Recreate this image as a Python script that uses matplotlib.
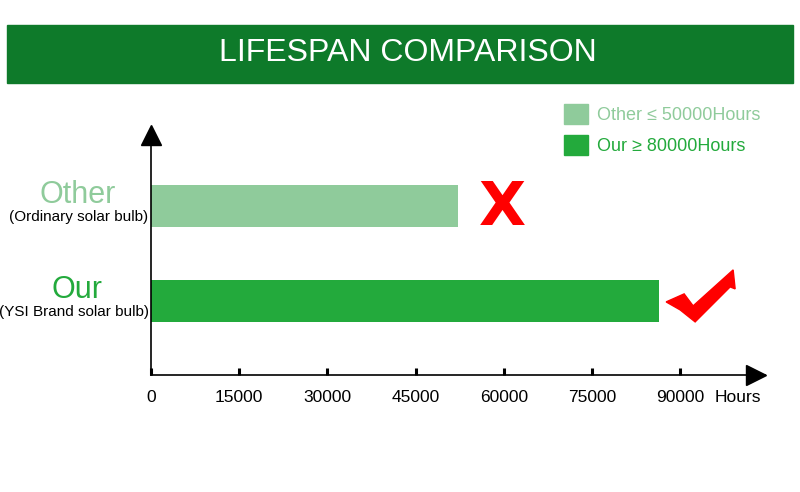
import matplotlib
matplotlib.use("Agg")
import matplotlib.pyplot as plt
from matplotlib.patches import Rectangle, Patch, Polygon
from matplotlib.transforms import Affine2D, ScaledTranslation

plt.rcParams['font.family'] = ['Liberation Sans', 'DejaVu Sans']

# data
categories = ["Our", "Other"]
subtitles = ["(YSI Brand solar bulb)", "(Ordinary solar bulb)"]
hours = [86400, 52200]
legend_labels = ["Other \u2264 50000Hours", "Our \u2265 80000Hours"]
tick_values = [0, 15000, 30000, 45000, 60000, 75000, 90000]

light_green = "#8fcb9b"
dark_green = "#23aa3c"
header_green = "#0e7a2a"
bar_colors = [dark_green, light_green]

fig = plt.figure(figsize=(8, 4.92), dpi=100)

# header band
fig.patches.append(Rectangle((7 / 800, 1 - 83 / 492), 786 / 800, 58 / 492,
                             transform=fig.transFigure, color=header_green, zorder=0))
fig.text(408 / 800, 1 - 53 / 492, "LIFESPAN COMPARISON", color="white",
         fontsize=23, ha="center", va="center")

ax = fig.add_axes([151 / 800, 117 / 492, 614 / 800, 247 / 492])
ypos = [0, 1]
ax.barh(ypos, hours, height=0.44, color=bar_colors, zorder=2)
ax.set_xlim(0, 104400)
ax.set_ylim(-0.78, 1.82)

for s in ["top", "right"]:
    ax.spines[s].set_visible(False)
ax.spines["left"].set_linewidth(1.2)
ax.spines["bottom"].set_linewidth(1.2)

# arrow heads
ax.plot([0], [(375 - 135) / 247], marker="^", markersize=15, color="black",
        transform=ax.transAxes, clip_on=False)
ax.plot([(756 - 151) / 614], [0], marker=">", markersize=15, color="black",
        transform=ax.transAxes, clip_on=False)

ax.set_xticks(tick_values)
ax.set_xticklabels([str(v) for v in tick_values], fontsize=12.5)
ax.tick_params(axis="x", direction="in", length=5, width=2.2, pad=11)
ax.set_yticks([])
ax.text((738 - 151) / 614, -0.09, "Hours", transform=ax.transAxes,
        fontsize=12.5, ha="center", va="center")

# category labels
for y, name, sub, c in zip(ypos, categories, subtitles, bar_colors):
    ax.text(-0.12, y + 0.11, name, transform=ax.get_yaxis_transform(),
            fontsize=22, color=c, ha="center", va="center")
    ax.text(-0.004, y - 0.12, sub, transform=ax.get_yaxis_transform(),
            fontsize=11, color="black", ha="right", va="center")

# red cross after the "Other" bar
ax.text(hours[1] + 7500, 1 - 0.03, "X", fontsize=44, fontweight="heavy",
        color="red", ha="center", va="center", family="DejaVu Sans")

# red tick after the "Our" bar (outline in pixels, relative to bar end)
check = [(7, 1), (25, -7), (34, 5), (74, -31), (76, -12), (71, -14),
         (52, 5), (36, 21), (21, 9)]
check_tr = Affine2D().scale(1, -1) + ScaledTranslation(hours[0], 0, ax.transData)
ax.add_patch(Polygon(check, closed=True, color="red", transform=check_tr,
                     clip_on=False))

handles = [Patch(color=light_green), Patch(color=dark_green)]
fig.legend(handles, legend_labels, loc="upper left",
           bbox_to_anchor=(548 / 800, 1 - 88 / 492), frameon=False,
           fontsize=13, labelcolor=[light_green, dark_green],
           handlelength=1.3, handleheight=1.3, handletextpad=0.5,
           labelspacing=0.6)

fig.savefig("out.png", dpi=100)
